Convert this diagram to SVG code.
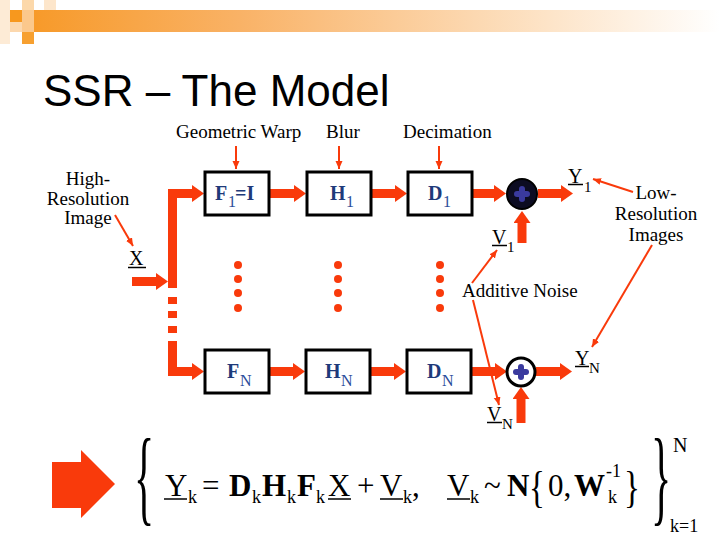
<svg xmlns="http://www.w3.org/2000/svg" width="720" height="540" viewBox="0 0 720 540">
<defs>
<linearGradient id="bar" x1="0" y1="0" x2="1" y2="0">
<stop offset="0" stop-color="#F79A2A"/>
<stop offset="0.3" stop-color="#F9B266"/>
<stop offset="0.75" stop-color="#FDE4C8"/>
<stop offset="1" stop-color="#FFFFFF"/>
</linearGradient>
<marker id="big" markerUnits="userSpaceOnUse" markerWidth="13" markerHeight="17" refX="1" refY="8.5" orient="auto">
<path d="M0,0 L12,8.5 L0,17 z" fill="#F93A0B"/>
</marker>
<marker id="small" markerUnits="userSpaceOnUse" markerWidth="9" markerHeight="8" refX="8" refY="3.5" orient="auto">
<path d="M0,0 L8,3.5 L0,7 z" fill="#F93A0B"/>
</marker>
<style>
.thick{stroke:#F93A0B;stroke-width:9;fill:none;marker-end:url(#big)}
.bus{stroke:#F93A0B;stroke-width:9;fill:none;stroke-linejoin:miter}
.thin{stroke:#F93A0B;stroke-width:2;fill:none;marker-end:url(#small)}
.box{fill:#FFFFFF;stroke:#000000;stroke-width:3}
.lbl{font-family:"Liberation Serif","Times New Roman",serif;font-size:19px;fill:#000}
.mid{text-anchor:middle}
.bx{font-family:"Liberation Serif","Times New Roman",serif;font-size:20px;font-weight:bold;fill:#1E3A7A}
.bsub{font-family:"Liberation Serif","Times New Roman",serif;font-size:16px;fill:#2B4C9A}
.var{font-family:"Liberation Serif","Times New Roman",serif;font-size:20px;fill:#000}
.vsub{font-family:"Liberation Serif","Times New Roman",serif;font-size:15px;fill:#000}
.ul{stroke:#000;stroke-width:1.5}
.dot{fill:#F93A0B}
.plus{stroke:#3A3A9E;stroke-width:6;stroke-linecap:round}
.eq{font-family:"Liberation Serif","Times New Roman",serif;font-size:31px;fill:#000}
.eqb{font-family:"Liberation Serif","Times New Roman",serif;font-size:31px;font-weight:bold;fill:#000}
.es{font-family:"Liberation Serif","Times New Roman",serif;font-size:18px;fill:#000}
</style>
</defs>

<!-- header decoration -->
<g id="header">
<rect x="0" y="0" width="10" height="44" fill="#FDEBD6"/>
<rect x="22" y="0" width="12" height="10" fill="#FCD8AA"/>
<rect x="44" y="0" width="12" height="10" fill="#FDE6CB"/>
<rect x="34" y="10" width="686" height="22" fill="url(#bar)"/>
<rect x="10" y="10" width="12" height="12" fill="#F7981E"/>
<rect x="22" y="10" width="12" height="22" fill="#FBC88C"/>
<rect x="10" y="22" width="12" height="10" fill="#FCD8AE"/>
<rect x="22" y="32" width="12" height="12" fill="#F7A030"/>
</g>

<text id="title" x="43" y="106" font-family="Liberation Sans, Arial, sans-serif" font-size="44" fill="#000">SSR – The Model</text>

<!-- labels -->
<g id="labels">
<text class="lbl" x="176" y="138">Geometric Warp</text>
<text class="lbl" x="326" y="138">Blur</text>
<text class="lbl" x="403" y="138">Decimation</text>
<text class="lbl mid" x="88" y="185">High-</text>
<text class="lbl mid" x="88" y="205">Resolution</text>
<text class="lbl mid" x="88" y="224">Image</text>
<text class="lbl mid" x="656" y="199">Low-</text>
<text class="lbl mid" x="656" y="220">Resolution</text>
<text class="lbl mid" x="656" y="241">Images</text>
<text class="lbl" x="462" y="297">Additive Noise</text>
</g>

<g id="X">
<text class="var" x="129" y="265">X</text>
<line class="ul" x1="128" y1="267.5" x2="146" y2="267.5"/>
</g>
<g id="Y1">
<text class="var" x="568" y="183">Y</text>
<line class="ul" x1="568" y1="184.5" x2="583" y2="184.5"/>
<text class="vsub" x="584" y="192">1</text>
</g>
<g id="V1">
<text class="var" x="492" y="244">V</text>
<line class="ul" x1="492" y1="245.5" x2="507" y2="245.5"/>
<text class="vsub" x="507" y="252">1</text>
</g>
<g id="YN">
<text class="var" x="575" y="365">Y</text>
<line class="ul" x1="575" y1="366.5" x2="589" y2="366.5"/>
<text class="vsub" x="589" y="373">N</text>
</g>
<g id="VN">
<text class="var" x="487" y="421">V</text>
<line class="ul" x1="487" y1="422.5" x2="502" y2="422.5"/>
<text class="vsub" x="502" y="429">N</text>
</g>

<!-- connectors -->
<g id="connectors">
<path class="bus" d="M172.5,288 V193.5 H193" marker-end="url(#big)"/>
<rect x="168" y="297" width="9" height="7" fill="#F93A0B"/>
<rect x="168" y="311" width="9" height="7" fill="#F93A0B"/>
<rect x="168" y="326" width="9" height="7" fill="#F93A0B"/>
<path class="bus" d="M172.5,341 V371.5 H193" marker-end="url(#big)"/>
<line class="thick" x1="132" y1="281.5" x2="157" y2="281.5"/>
<line class="thick" x1="270" y1="193.5" x2="295" y2="193.5"/>
<line class="thick" x1="371" y1="193.5" x2="396" y2="193.5"/>
<line class="thick" x1="472" y1="193.5" x2="495" y2="193.5"/>
<line class="thick" x1="538" y1="193.5" x2="562" y2="193.5"/>
<line class="thick" x1="522" y1="243" x2="522" y2="222"/>
<line class="thick" x1="270" y1="371.5" x2="294" y2="371.5"/>
<line class="thick" x1="371" y1="371.5" x2="395" y2="371.5"/>
<line class="thick" x1="472" y1="371.5" x2="496" y2="371.5"/>
<line class="thick" x1="536" y1="371.5" x2="561" y2="371.5"/>
<line class="thick" x1="521" y1="423" x2="521" y2="398"/>
<line class="thin" x1="236" y1="146" x2="236" y2="169"/>
<line class="thin" x1="339" y1="146" x2="339" y2="169"/>
<line class="thin" x1="439" y1="146" x2="439" y2="169"/>
<line class="thin" x1="115" y1="215" x2="133" y2="246"/>
<line class="thin" x1="633" y1="192" x2="593" y2="179"/>
<line class="thin" x1="652" y1="245" x2="592" y2="347"/>
<line class="thin" x1="472" y1="283" x2="497" y2="250"/>
<line class="thin" x1="473" y1="300" x2="499" y2="405"/>
</g>

<g id="dots">
<circle class="dot" cx="238" cy="265" r="4"/><circle class="dot" cx="238" cy="279" r="4"/><circle class="dot" cx="238" cy="293" r="4"/><circle class="dot" cx="238" cy="308" r="4"/>
<circle class="dot" cx="338" cy="265" r="4"/><circle class="dot" cx="338" cy="279" r="4"/><circle class="dot" cx="338" cy="293" r="4"/><circle class="dot" cx="338" cy="308" r="4"/>
<circle class="dot" cx="440" cy="265" r="4"/><circle class="dot" cx="440" cy="279" r="4"/><circle class="dot" cx="440" cy="293" r="4"/><circle class="dot" cx="440" cy="308" r="4"/>
</g>

<!-- nodes -->
<g id="F1">
<rect class="box" x="205" y="172" width="64" height="43"/>
<text class="bx" x="215" y="200">F</text><text class="bsub" x="228" y="207">1</text><text class="bx" x="235" y="200">=I</text>
</g>
<g id="H1">
<rect class="box" x="307" y="172" width="64" height="43"/>
<text class="bx" x="330" y="200">H</text><text class="bsub" x="346" y="207">1</text>
</g>
<g id="D1">
<rect class="box" x="408" y="172" width="64" height="43"/>
<text class="bx" x="428" y="200">D</text><text class="bsub" x="443" y="207">1</text>
</g>
<g id="sum1">
<circle cx="522" cy="194" r="15" fill="#0C0C22" stroke="#000" stroke-width="2"/>
<line class="plus" x1="517" y1="194" x2="527" y2="194"/>
<line class="plus" x1="522" y1="189" x2="522" y2="199"/>
</g>
<g id="FN">
<rect class="box" x="205" y="350" width="64" height="43"/>
<text class="bx" x="227" y="378">F</text><text class="bsub" x="240" y="386">N</text>
</g>
<g id="HN">
<rect class="box" x="306" y="350" width="64" height="43"/>
<text class="bx" x="325" y="378">H</text><text class="bsub" x="341" y="386">N</text>
</g>
<g id="DN">
<rect class="box" x="407" y="350" width="64" height="43"/>
<text class="bx" x="427" y="378">D</text><text class="bsub" x="442" y="386">N</text>
</g>
<g id="sumN">
<circle cx="521" cy="372" r="14" fill="#FFFFFF" stroke="#000" stroke-width="3"/>
<line class="plus" x1="516" y1="372" x2="526" y2="372"/>
<line class="plus" x1="521" y1="367" x2="521" y2="377"/>
</g>

<!-- big arrow -->
<polygon id="bigarrow" points="52,462 81,462 81,450 115,484 81,518 81,508 52,508" fill="#F93A0B"/>

<!-- equation -->
<g id="equation">
<text class="eq" transform="translate(134,512) scale(0.4,1)" style="font-size:105px">{</text>
<text class="eq" x="165" y="496">Y</text><line class="ul" x1="164" y1="499" x2="187" y2="499"/><text class="es" x="188" y="503">k</text>
<text class="eq" x="202" y="496">=</text>
<text class="eqb" x="229" y="496">D</text><text class="es" x="252" y="503">k</text>
<text class="eqb" x="262" y="496">H</text><text class="es" x="287" y="503">k</text>
<text class="eqb" x="297" y="496">F</text><text class="es" x="316" y="503">k</text>
<text class="eq" x="328" y="496">X</text><line class="ul" x1="328" y1="499" x2="351" y2="499"/>
<text class="eq" x="357" y="496">+</text>
<text class="eq" x="380" y="496">V</text><line class="ul" x1="380" y1="499" x2="403" y2="499"/><text class="es" x="403" y="503">k</text>
<text class="eq" x="412" y="496">,</text>
<text class="eq" x="447" y="496">V</text><line class="ul" x1="447" y1="499" x2="470" y2="499"/><text class="es" x="470" y="503">k</text>
<text class="eq" x="484" y="496">~</text>
<text class="eqb" x="507" y="496">N</text>
<text class="eq" transform="translate(529,502) scale(0.75,1)" style="font-size:44px">{</text>
<text class="eq" x="548" y="496">0,</text>
<text class="eqb" x="574" y="496">W</text>
<text class="es" x="606" y="477">-1</text>
<text class="es" x="608" y="503">k</text>
<text class="eq" transform="translate(624,502) scale(0.75,1)" style="font-size:44px">}</text>
<text class="eq" transform="translate(651,512) scale(0.4,1)" style="font-size:105px">}</text>
<text class="es" x="673" y="452" style="font-size:20px">N</text>
<text class="es" x="670" y="532">k=1</text>
</g>
</svg>
